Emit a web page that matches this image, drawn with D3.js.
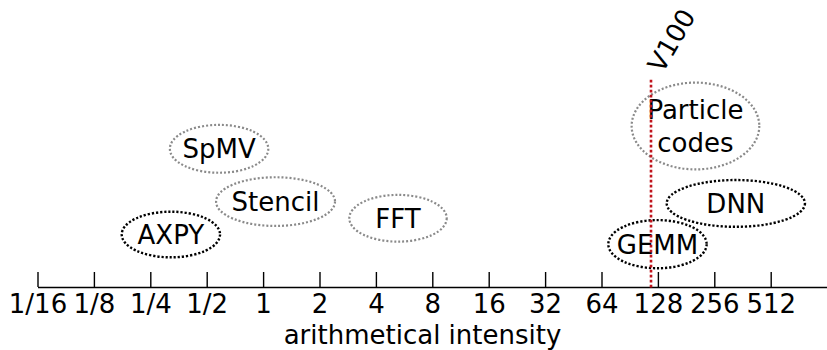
<!DOCTYPE html>
<html>
<head>
<meta charset="utf-8">
<script src="https://cdn.jsdelivr.net/npm/d3@7/dist/d3.min.js"></script>
<style>
  body { margin: 0; background: #fff; }
  svg { display: block; font-family: "DejaVu Sans", sans-serif; }
</style>
</head>
<body>
<svg id="chart" width="827" height="350"></svg>
<script>
// ---- data ----
const tickValues = [1/16, 1/8, 1/4, 1/2, 1, 2, 4, 8, 16, 32, 64, 128, 256, 512];
const tickLabels = ["1/16", "1/8", "1/4", "1/2", "1", "2", "4", "8", "16", "32", "64", "128", "256", "512"];
const kernels    = ["AXPY", "SpMV", "Stencil", "FFT", "Particle\ncodes", "DNN", "GEMM"];
const intensityLo = [0.176, 0.318, 0.561, 2.885, 92.7, 142.6, 69.6];
const intensityHi = [0.589, 1.066, 2.42, 9.55, 445, 780, 233];
const levelLo = [1.06, 4.08, 2.18, 1.62, 4.20, 2.15, 0.67];
const levelHi = [2.69, 5.79, 3.92, 3.29, 7.30, 3.82, 2.39];
const kernelKind = ["compute", "memory", "memory", "memory", "memory", "compute", "compute"];
const gpuName = "V100";
const gpuBalance = 117.6;
const gpuLevelTop = 7.4;
const gpuLevelBottom = -0.1;
const xLabel = "arithmetical intensity";

// ---- drawing ----
const svg = d3.select("#chart");
const fs = 26;

const x = d3.scaleLog().base(2).domain([1/16, 1024]).range([37.5, 827.1]);
const y = d3.scaleLinear().domain([0, 10]).range([287, 7]);

const axis = d3.axisBottom(x)
  .tickValues(tickValues)
  .tickFormat((d, i) => tickLabels[i])
  .tickSizeInner(-15)
  .tickSizeOuter(0)
  .tickPadding(7.5);

const gAxis = svg.append("g").attr("transform", `translate(0,${y(0)})`).call(axis);
gAxis.select(".domain").attr("stroke", "#000").attr("stroke-width", 1.4);
gAxis.selectAll(".tick line").attr("stroke", "#000").attr("stroke-width", 1.4);
gAxis.selectAll(".tick text")
  .attr("font-family", "DejaVu Sans")
  .attr("font-size", fs)
  .attr("fill", "#000");
gAxis.attr("font-family", "DejaVu Sans").attr("font-size", fs);

svg.append("text")
  .attr("x", 422.5)
  .attr("y", 343.5)
  .attr("text-anchor", "middle")
  .attr("font-size", fs)
  .attr("fill", "#000")
  .text(xLabel);

// ellipses
const idx = d3.range(kernels.length);
const gK = svg.append("g");
idx.forEach(i => {
  const x0 = x(intensityLo[i]), x1 = x(intensityHi[i]);
  const y0 = y(levelHi[i]), y1 = y(levelLo[i]);
  const cx = (x0 + x1) / 2, cy = (y0 + y1) / 2;
  const compute = kernelKind[i] === "compute";
  gK.append("ellipse")
    .attr("cx", cx).attr("cy", cy)
    .attr("rx", (x1 - x0) / 2).attr("ry", (y1 - y0) / 2)
    .attr("fill", "none")
    .attr("stroke", compute ? "#000" : "#8a8a8a")
    .attr("stroke-width", compute ? 2.4 : 2.2)
    .attr("stroke-dasharray", compute ? "2.2 1.9" : "2 2");
  const lines = kernels[i].split("\n");
  const lh = 32.6;
  const t = gK.append("text")
    .attr("text-anchor", "middle")
    .attr("font-size", fs)
    .attr("fill", "#000");
  lines.forEach((ln, j) => {
    t.append("tspan")
      .attr("x", cx)
      .attr("y", cy + 0.365 * fs - (lines.length - 1) * lh / 2 + j * lh)
      .text(ln);
  });
});

// V100 line
const gx = x(gpuBalance);
svg.append("line")
  .attr("x1", gx).attr("x2", gx)
  .attr("y1", y(gpuLevelTop)).attr("y2", y(gpuLevelBottom))
  .attr("stroke", "#c0141c")
  .attr("stroke-width", 2.6)
  .attr("stroke-dasharray", "2.6 2.4");

svg.append("text")
  .attr("transform", `translate(${gx + 11.5},${y(gpuLevelTop) - 5.6}) rotate(-60)`)
  .attr("font-size", fs)
  .attr("fill", "#000")
  .text(gpuName);
</script>
</body>
</html>
